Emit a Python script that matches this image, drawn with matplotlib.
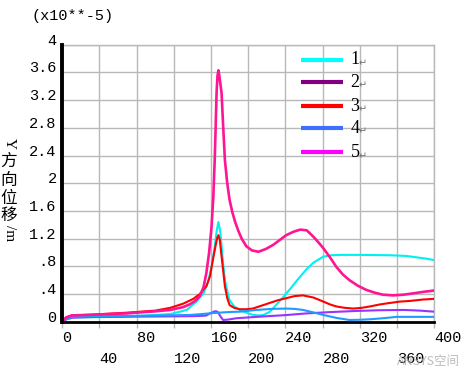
import matplotlib
matplotlib.use('Agg')
import matplotlib.pyplot as plt
from matplotlib.lines import Line2D

# data (values in units of 1e-5 m)
x1 = [0, 5, 12, 30, 62, 90, 116, 134, 144.5, 152, 157, 161, 164, 166, 168, 170, 171.5, 173, 175, 178, 180, 185, 191, 198, 205, 212, 216, 223, 230, 238, 245, 254, 263, 270, 276, 281, 290, 300, 320, 352, 370, 381, 392, 400]
y1 = [0, 0.04, 0.06, 0.065, 0.07, 0.09, 0.11, 0.17, 0.29, 0.41, 0.58, 0.82, 1.08, 1.3, 1.44, 1.3, 1.08, 0.85, 0.6, 0.42, 0.31, 0.22, 0.17, 0.13, 0.1, 0.09, 0.097, 0.14, 0.24, 0.36, 0.47, 0.62, 0.76, 0.85, 0.9, 0.94, 0.96, 0.965, 0.965, 0.96, 0.95, 0.93, 0.91, 0.89]

x2 = [0, 5, 12, 40, 100, 140, 150, 155, 159, 164, 166, 168, 170, 173, 178, 187.5, 209, 240, 263, 290, 316, 340, 367, 385, 400]
y2 = [0, 0.04, 0.06, 0.07, 0.075, 0.08, 0.085, 0.09, 0.12, 0.15, 0.15, 0.13, 0.08, 0.025, 0.03, 0.05, 0.07, 0.095, 0.12, 0.14, 0.155, 0.165, 0.17, 0.16, 0.145]

x3 = [0, 4, 10, 30, 69, 100, 116, 130, 141, 148, 155, 159, 162, 165, 166.5, 168, 169.5, 171, 173, 175, 177.5, 180, 185, 191, 198, 205, 214, 223, 232, 241, 250, 259, 270, 281, 288, 295, 304, 313, 322, 331, 342, 352, 363, 374, 388, 400]
y3 = [0, 0.06, 0.09, 0.1, 0.13, 0.16, 0.2, 0.26, 0.33, 0.4, 0.51, 0.66, 0.89, 1.1, 1.2, 1.25, 1.18, 0.99, 0.75, 0.51, 0.34, 0.24, 0.2, 0.18, 0.18, 0.19, 0.23, 0.27, 0.31, 0.34, 0.37, 0.38, 0.35, 0.29, 0.25, 0.22, 0.2, 0.19, 0.2, 0.22, 0.25, 0.27, 0.29, 0.3, 0.32, 0.33]

x4 = [0, 5, 11, 40, 94, 137, 150, 162, 180, 191, 209, 225, 241, 250, 259, 270, 281, 295, 309, 320, 331, 345, 360, 380, 400]
y4 = [0, 0.04, 0.07, 0.08, 0.087, 0.097, 0.11, 0.125, 0.14, 0.145, 0.17, 0.185, 0.19, 0.185, 0.17, 0.135, 0.097, 0.055, 0.025, 0.028, 0.035, 0.05, 0.07, 0.07, 0.07]

x5 = [0, 4, 10, 30, 69, 100, 116, 130, 137, 143, 148, 152, 155, 158, 160.6, 162.5, 164, 165, 166, 167, 168, 169, 170, 171.4, 173, 175, 177.5, 180, 183, 186, 189.5, 193, 198, 204, 211, 219, 227, 234, 241, 249, 256, 263, 270, 276, 281, 288, 295, 302, 309, 318, 327, 336, 345, 356, 367, 378, 388, 400]
y5 = [0, 0.06, 0.09, 0.1, 0.12, 0.15, 0.17, 0.21, 0.25, 0.3, 0.37, 0.5, 0.7, 1.0, 1.37, 1.8, 2.33, 2.8, 3.3, 3.55, 3.63, 3.55, 3.45, 3.3, 2.85, 2.33, 2.0, 1.76, 1.58, 1.44, 1.31, 1.2, 1.09, 1.03, 1.01, 1.05, 1.11, 1.18, 1.25, 1.3, 1.33, 1.32, 1.23, 1.14, 1.06, 0.93, 0.79, 0.68, 0.6, 0.52, 0.46, 0.42, 0.39, 0.38, 0.39, 0.41, 0.43, 0.45]

xticks = list(range(0, 401, 40))
yticks = [0, 0.4, 0.8, 1.2, 1.6, 2.0, 2.4, 2.8, 3.2, 3.6, 4.0]
ytick_labels = ['0', '.4', '.8', '1.2', '1.6', '2', '2.4', '2.8', '3.2', '3.6', '4']
legend_names = ['1', '2', '3', '4', '5']

# line colours in the plot and in the legend are not the same in the original
line_colors = ['#00f0f0', '#9933ff', '#ff0000', '#1e9bff', '#ff1493']
legend_colors = ['#00ffff', '#800080', '#ff0000', '#3f6fff', '#ff00ff']

fig = plt.figure(figsize=(4.68, 3.72), dpi=100)
ax = fig.add_axes([0.1331, 0.1352, 0.7943, 0.7446])

series = [(x1, y1), (x2, y2), (x3, y3), (x4, y4), (x5, y5)]
order = [0, 3, 1, 2, 4]
for i in order:
    xs, ys = series[i]
    lw = 1.9 if i == 4 else 1.5
    ax.plot(xs, ys, color=line_colors[i], lw=lw, solid_joinstyle='round', zorder=3 + i * 0.1)

ax.set_xlim(0, 400)
ax.set_ylim(0, 4)
ax.set_xticks(xticks)
ax.set_yticks(yticks)
ax.set_xticklabels([str(t) for t in xticks])
ax.set_yticklabels(ytick_labels)
ax.grid(True, color='#b8b8b8', lw=1.0, zorder=0)
ax.set_axisbelow(True)

mono = 'Liberation Mono'
for lab in ax.get_xticklabels():
    lab.set_fontfamily(mono)
    lab.set_fontsize(11)
    lab.set_horizontalalignment('left')
for k, tk in enumerate(ax.xaxis.get_major_ticks()):
    tk.set_pad(3 if k % 2 == 0 else 17.5)
for lab in ax.get_yticklabels():
    lab.set_fontfamily(mono)
    lab.set_fontsize(11)
    lab.set_verticalalignment('baseline')

ax.tick_params(axis='x', direction='out', length=4, color='#b8b8b8', width=1)
ax.tick_params(axis='y', length=0, pad=4)

for s in ['top', 'right']:
    ax.spines[s].set_color('#b8b8b8')
    ax.spines[s].set_linewidth(1.0)
ax.spines['left'].set_color('black')
ax.spines['left'].set_linewidth(2.8)
ax.spines['bottom'].set_color('black')
ax.spines['bottom'].set_linewidth(2.0)
ax.spines['left'].set_zorder(5)
ax.spines['bottom'].set_zorder(5)

# legend drawn over the grid, no frame
legend_y = [0.945, 0.865, 0.778, 0.698, 0.611]
for name, c, yy in zip(legend_names, legend_colors, legend_y):
    ax.add_line(Line2D([0.643, 0.755], [yy, yy], transform=ax.transAxes,
                       color=c, lw=3.0, solid_capstyle='butt', zorder=4))
    ax.text(0.775, yy, name, transform=ax.transAxes, fontsize=13,
            family='Liberation Serif', va='center', ha='left', zorder=4)
    ax.text(0.797, yy - 0.012, '\u21b5', transform=ax.transAxes, fontsize=7,
            family='DejaVu Sans', color='#707070', va='center', ha='left', zorder=4)

# scale factor at top left
fig.text(0.068, 0.958, '(x10**-5)', family=mono, fontsize=11, va='center', ha='left')

# vertical y label: latin rotated, chinese upright
ylab = [('Y', 143, True), ('方', 161, False), ('向', 180, False),
        ('位', 198.5, False), ('移', 215.5, False), ('/m', 233, True)]
for ch, py, rot in ylab:
    if rot:
        fig.text(9 / 468, 1 - py / 372, ch, rotation=-90, fontsize=11,
                 family='Liberation Serif', va='center', ha='center')
    else:
        fig.text(9 / 468, 1 - py / 372, ch, fontsize=12,
                 family=['Noto Sans CJK SC', 'DejaVu Sans'], va='center', ha='center')

# watermark
fig.text(397 / 468, 1 - 362 / 372, 'ANSYS空间', fontsize=9,
         family=['Noto Sans CJK SC', 'DejaVu Sans'], color='#b0b0b0', alpha=0.85,
         va='center', ha='left')

fig.savefig('out.png', dpi=100)
